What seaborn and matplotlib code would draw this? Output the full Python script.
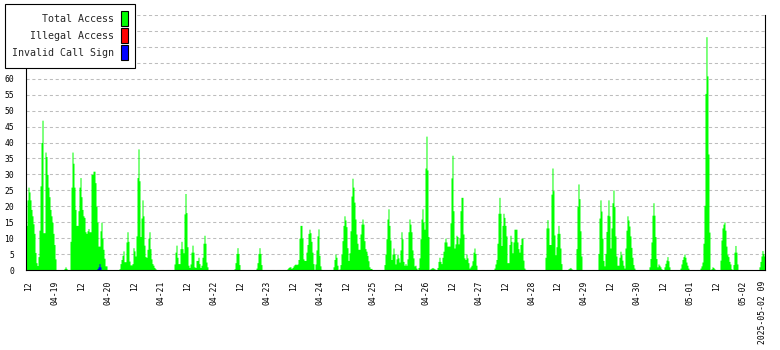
import numpy as np
import pandas as pd
import matplotlib
matplotlib.use("Agg")
import matplotlib.pyplot as plt
from matplotlib.patches import Patch
from matplotlib.ticker import FixedLocator, NullFormatter
import seaborn as sns

# ---------------- data ----------------
# time axis: hours relative to 2025-04-18 12:00, one sample every ~27 minutes
first_sample_h = -1.36
sample_step_h = 0.4537
n_samples = 739

# Total Access bursts (sample index where each burst starts, then its values)
burst_starts = [0, 38, 44, 93, 148, 208, 230, 261, 307, 358, 468, 519, 542,
                550, 572, 623, 638, 654, 674, 694, 733]
b_a = [14, 22, 26, 24.5, 22, 19, 17, 14.5, 11.5, 5.5, 2.3, 1.4, 4.2, 12.5, 26.4,
       40, 47, 11.7, 11.7, 37, 35.6, 30, 26, 23, 19, 17, 15, 11.5, 8, 3.5]
b_b = [0.5, 1, 0.5]
b_c = [9, 26, 37, 33.5, 26, 19, 14, 14, 18.6, 26, 29, 23, 19, 17, 16.5, 12, 11.5,
       12.3, 13, 12, 12, 30, 30, 31, 31, 27.4, 20, 15, 7.5, 7.5, 12.3, 15, 10, 6.5,
       3.7, 1.3, 1.3]
b_d = [0.4, 2, 3.3, 4.6, 6, 2.6, 2.6, 8.8, 12, 9, 2.8, 1.6, 1.6, 2, 7, 6, 4.4, 10.7,
       29, 38, 28, 10.5, 16.3, 22, 17, 7.8, 4.2, 4, 6.5, 10, 12, 6.7, 3.5, 2, 1.5,
       0.8, 0.4]
b_e = [1.9, 5.6, 7.8, 4, 2, 2, 6.7, 9, 6.7, 5.4, 17.6, 24, 18, 7.3, 1.5, 0.8, 1.9,
       5.6, 7.8, 5.6, 1, 0.8, 3, 3, 4, 2, 0.8, 1.5, 4, 8.4, 10.9, 8.4, 2.5, 1]
b_f = [0.4, 2.3, 5.2, 7, 5.2, 1.7]
b_g = [0.6, 2.3, 5.2, 7, 5.2, 1.7]
b_h = [0.4, 0.8, 1, 1, 0.5, 0.8, 1.3, 1.7, 1.9, 1.7, 1.9, 3.3, 10, 14, 14, 10, 3.5,
       3, 3, 5.6, 8, 11.5, 12.8, 11.7, 9, 5.6, 2, 0.2, 1.9, 6.3, 10.7, 12.9, 4.6,
       1.3, 0.2]
b_i = [1, 3.3, 5, 4, 1.5, 0, 0.3, 1.7, 5, 9.2, 14, 17, 15.7, 13.6, 7, 3, 5.4, 12.3,
       23.2, 28.8, 26, 21.3, 16, 11.3, 8.4, 6.5, 6.5, 11.3, 14.4, 16, 14.4, 9.2, 6.7,
       5.9, 4.6, 2.9, 1, 0.5, 0.5]
b_j = [1.7, 5, 9.8, 16, 19.2, 14, 9.4, 3.3, 5, 6.9, 5, 1.9, 3.5, 5, 3.8,
       2.5, 6.3, 12, 9.8, 2.7, 1.5, 2, 1.5, 3.5, 12, 16, 14.4, 12, 6.3, 3.8,
       1.3, 1.5, 0.6, 0.2, 0.8, 3.8, 9.8, 16, 19.2, 15, 12.8, 32, 42, 31.4, 10.5,
       0, 0.4, 0.6, 0.8, 0.6, 0.4, 0.2, 0, 0.8, 2.7, 4, 2.7, 2, 4, 5.9,
       8.8, 10, 8.8, 7.5, 7.5, 7.5, 14.8, 28.9, 36, 18.6, 6.9, 8.2, 10.9, 10.5, 8.2,
       10, 18.6, 22.8, 22.8, 11.3, 3.8, 3.3, 5, 3.8, 2.3, 0.6, 1, 1.5, 2.9, 5.6,
       6.9, 5.2, 1.5]
b_k = [0.6, 1.9, 3.3, 8.4, 17.8, 22.8, 17.8, 7.7, 14, 17.8, 16.5, 14, 10.7, 2.3,
       2.3, 8, 10.9, 9, 5.4, 8.8, 12.8, 12.8, 12.8, 8.8, 6.7, 5.6, 8, 10, 10, 3.1,
       0.6, 0.2]
b_l = [4, 13.2, 15.8, 13.2, 8, 8, 23.8, 32, 24.9, 11, 4.8, 7.3, 11.5, 14, 11.5,
       6.9, 2]
b_m = [0.4, 0.6, 0.8, 0.4, 0.2]
b_n = [6.7, 20, 27, 22.4, 12.3, 4.4]
b_o = [5.2, 16.3, 22, 18.5, 10, 3, 1.3, 5.2, 12.1, 17.2, 22, 17, 6.9, 13.2, 21.1,
       25.1, 19.9, 10.7, 4.4, 1.5, 1.5, 4, 5.9, 4.8, 3.1, 1.5, 0.6, 6.9, 12.5, 17,
       15.7, 13.8, 10.7, 7.1, 4, 1.7, 0.6]
b_p = [1, 3.6, 8.8, 17.2, 21.1, 17.2, 10.5, 3.6, 1, 1.9, 1.5, 1, 0.4]
b_q = [1, 2.1, 3.1, 4.2, 2.9, 1]
b_r = [0.6, 1.9, 3.3, 4.2, 5, 4, 2.5, 1.5, 0.6]
b_s = [0.6, 1.3, 2.5, 8.4, 20.3, 55.4, 73.2, 60.9, 36.4, 11.9, 0, 0.4, 1, 0.8, 0.4]
b_t = [3.1, 9.4, 13.2, 14.4, 15.1, 12.5, 7.5, 4.8, 4.2, 2.7, 1.9, 0.4, 0, 1.7, 5.6,
       7.7, 5.6, 1.9]
b_u = [1, 2.7, 4.4, 6.1, 5.2, 4.4]

# Illegal Access: no events; Invalid Call Sign: one small burst
illegal_starts = []
illegal_values = []
invalid_start = 71
invalid_values = [0.5, 1, 2, 1]

# x tick labels (hours relative to 2025-04-18 12:00)
label_hours = list(range(0, 325, 12)) + [333]
label_texts = ["12", "04-19", "12", "04-20", "12", "04-21", "12", "04-22", "12",
               "04-23", "12", "04-24", "12", "04-25", "12", "04-26", "12", "04-27",
               "12", "04-28", "12", "04-29", "12", "04-30", "12", "05-01", "12",
               "05-02", "2025-05-02 09"]
y_ticks = list(range(0, 81, 5))
y_labelled_max = 60
series_names = ["Total Access", "Illegal Access", "Invalid Call Sign"]
series_colors = ["#00ff00", "#ff0000", "#0000ff"]

# ---------------- build table ----------------
bursts = [b_a, b_b, b_c, b_d, b_e, b_f, b_g, b_h, b_i, b_j, b_k, b_l, b_m, b_n,
          b_o, b_p, b_q, b_r, b_s, b_t, b_u]
total = np.zeros(n_samples)
for s, vals in zip(burst_starts, bursts):
    total[s:s + len(vals)] = vals
illegal = np.zeros(n_samples)
invalid = np.zeros(n_samples)
invalid[invalid_start:invalid_start + len(invalid_values)] = invalid_values

x_start = first_sample_h
x_end = first_sample_h + sample_step_h * n_samples
df = pd.DataFrame({"hour": x_start + sample_step_h * (np.arange(n_samples) + 0.5),
                   "total": total, "illegal": illegal, "invalid": invalid})

# ---------------- plot ----------------
sns.set_style("white")
plt.rcParams["font.family"] = ["DejaVu Sans Mono", "DejaVu Sans"]

fig = plt.figure(figsize=(7.8, 3.5), dpi=100)
ax = fig.add_axes([25.7 / 780, 80 / 350, (765 - 25.7) / 780, 255 / 350])

for col, c in zip(["total", "illegal", "invalid"], series_colors):
    sns.histplot(data=df, x="hour", weights=col, binwidth=sample_step_h,
                 binrange=(x_start, x_end), element="step",
                 fill=True, color=c, alpha=1, linewidth=0, ax=ax)

ax.set_xlim(-1.5, 333.94)
ax.set_ylim(0, 80)
ax.set_xlabel("")
ax.set_ylabel("")

ax.xaxis.set_major_locator(FixedLocator(label_hours))
ax.set_xticklabels(label_texts, rotation=90, va="top", ha="center")
ax.xaxis.set_minor_locator(FixedLocator([-1.5 + 20 * k for k in range(17)]))
ax.xaxis.set_minor_formatter(NullFormatter())
ax.tick_params(axis="x", which="major", length=0, pad=8, labelsize=5.8,
               colors="black")
ax.tick_params(axis="x", which="minor", length=5.5, width=0.8, direction="inout",
               colors="black")

ax.yaxis.set_major_locator(FixedLocator(y_ticks))
ax.set_yticklabels([str(v) if v <= y_labelled_max else "" for v in y_ticks])
ax.tick_params(axis="y", which="major", length=6.5, width=0.8, direction="inout",
               pad=5, labelsize=5.8, colors="black")

ax.set_axisbelow(True)
ax.grid(axis="y", color="#bdbdbd", linewidth=0.75, linestyle=(0, (3, 2.6)))
ax.grid(axis="x", visible=False)

for side in ["left", "bottom", "right"]:
    ax.spines[side].set_visible(True)
    ax.spines[side].set_color("black")
    ax.spines[side].set_linewidth(0.8)
ax.spines["top"].set_visible(False)

handles = [Patch(facecolor=c, edgecolor="black", linewidth=0.8) for c in series_colors]
leg = fig.legend(handles, series_names, loc="upper left",
                 bbox_to_anchor=(5 / 780, 1 - 4 / 350), bbox_transform=fig.transFigure,
                 borderaxespad=0, markerfirst=False, handlelength=0.7,
                 handleheight=1.95, handletextpad=0.65, labelspacing=0.19,
                 borderpad=0.72, fancybox=False, framealpha=1, edgecolor="black",
                 prop={"family": "DejaVu Sans Mono", "size": 7.2})
leg.get_frame().set_linewidth(0.8)

fig.savefig("out.png", dpi=100, facecolor="white")
